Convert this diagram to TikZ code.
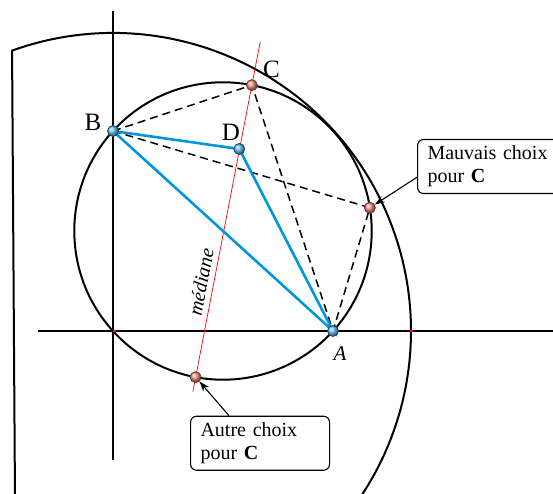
\documentclass[tikz,border=0pt]{standalone}
\usepackage{fontspec}
\setmainfont{Liberation Serif}
\usetikzlibrary{arrows.meta,calc}

\definecolor{bleu}{RGB}{0,150,220}
\definecolor{bleuclair}{RGB}{110,195,240}
\definecolor{bleufonce}{RGB}{20,70,110}
\definecolor{rose}{RGB}{235,150,130}
\definecolor{rosefonce}{RGB}{120,50,40}

\tikzset{
    trait/.style={line width=2pt},
    pointille/.style={line width=1.5pt, dash pattern=on 8pt off 5pt},
    segbleu/.style={line width=2.6pt, color=bleu},
    ptbleu/.style={circle, inner sep=0pt, minimum size=11pt, draw=bleufonce, line width=0.8pt, shading=ball, ball color=bleuclair},
    ptrose/.style={circle, inner sep=0pt, minimum size=11pt, draw=rosefonce, line width=0.8pt, shading=ball, ball color=rose},
    lettre/.style={font=\fontsize{25}{25}\selectfont},
    bulle/.style={draw, rounded corners=6pt, line width=1.1pt, align=left, inner xsep=10pt, minimum height=54pt, anchor=north west, font=\fontsize{20}{23}\selectfont},
    fleche/.style={line width=1.1pt, -{Stealth[length=10pt,width=7pt]}},
}

\begin{document}
\begin{tikzpicture}[x=1pt, y=1pt]
    \useasboundingbox (0,0) rectangle (553,494);
    \clip (0,0) rectangle (553,494);

    %   Points of the figure
    \coordinate (O) at (113,163);
    \coordinate (A) at (333,163);
    \coordinate (B) at (113,363);
    \coordinate (D) at (239.3,345);
    \coordinate (Q) at ($(A)!0.5!(B)$);
    \coordinate (C) at ($(Q)+(78.8:148.7)$);
    \coordinate (M) at ($(Q)+(9:148.7)$);
    \coordinate (Au) at ($(Q)+(-100.6:148.7)$);
    \coordinate (X) at ($(O)+(298,0)$);
    \coordinate (coin) at ($(O)+(109.8:298)$);

    %   Axes
    \draw[trait] (38,163) -- (560,163);
    \draw[trait] (113,483) -- (113,34);

    %   Large arc and its border line
    \draw[trait] (15,-6) -- (coin) arc[start angle=109.8, end angle=-40, radius=298];

    %   Circle of diameter AB
    \draw[trait] (Q) circle[radius=148.7];

    %   Small red marks on the axis
    \draw[red, line width=1.6pt] (O) -- ++(3,0);
    \draw[red, line width=1.6pt] ($(X)+(-1.5,0)$) -- ++(3,0);

    %   Median
    \draw[red, line width=0.7pt] ($(Au)!-0.05!(C)$) -- ($(Au)!1.148!(C)$);
    \node[rotate=79.1, font=\fontsize{20}{20}\selectfont\itshape] (med) at (201,212) {médiane};

    %   Dashed lines
    \draw[pointille] (B) -- (C) -- (A);
    \draw[pointille] (B) -- (M) -- (A);

    %   Triangle ABD
    \draw[segbleu] (B) -- (D) -- (A) -- cycle;

    %   Points
    \node[ptbleu] (ptA) at (A) {};
    \node[ptbleu] (ptB) at (B) {};
    \node[ptbleu] (ptD) at (D) {};
    \node[ptrose] (ptC) at (C) {};
    \node[ptrose] (ptM) at (M) {};
    \node[ptrose] (ptAu) at (Au) {};

    %   Labels
    \node[lettre] (lblB) at (93,372) {B};
    \node[lettre] (lblC) at (271.5,425) {C};
    \node[lettre] (lblD) at (231,362) {D};
    \node[font=\fontsize{21}{21}\selectfont\itshape] (lblA) at (340,140) {A};

    %   Callouts
    \node[bulle, text width=140pt] (mauvais) at (417,355) {Mauvais choix\\pour \textbf{C}};
    \node[bulle, text width=119pt] (autre) at (190,78.3) {Autre choix\\pour \textbf{C}};
    \draw[fleche] ([yshift=-10.7pt]mauvais.west) -- (ptM);
    \draw[fleche] ([xshift=-31pt]autre.north) -- (ptAu);
\end{tikzpicture}
\end{document}
